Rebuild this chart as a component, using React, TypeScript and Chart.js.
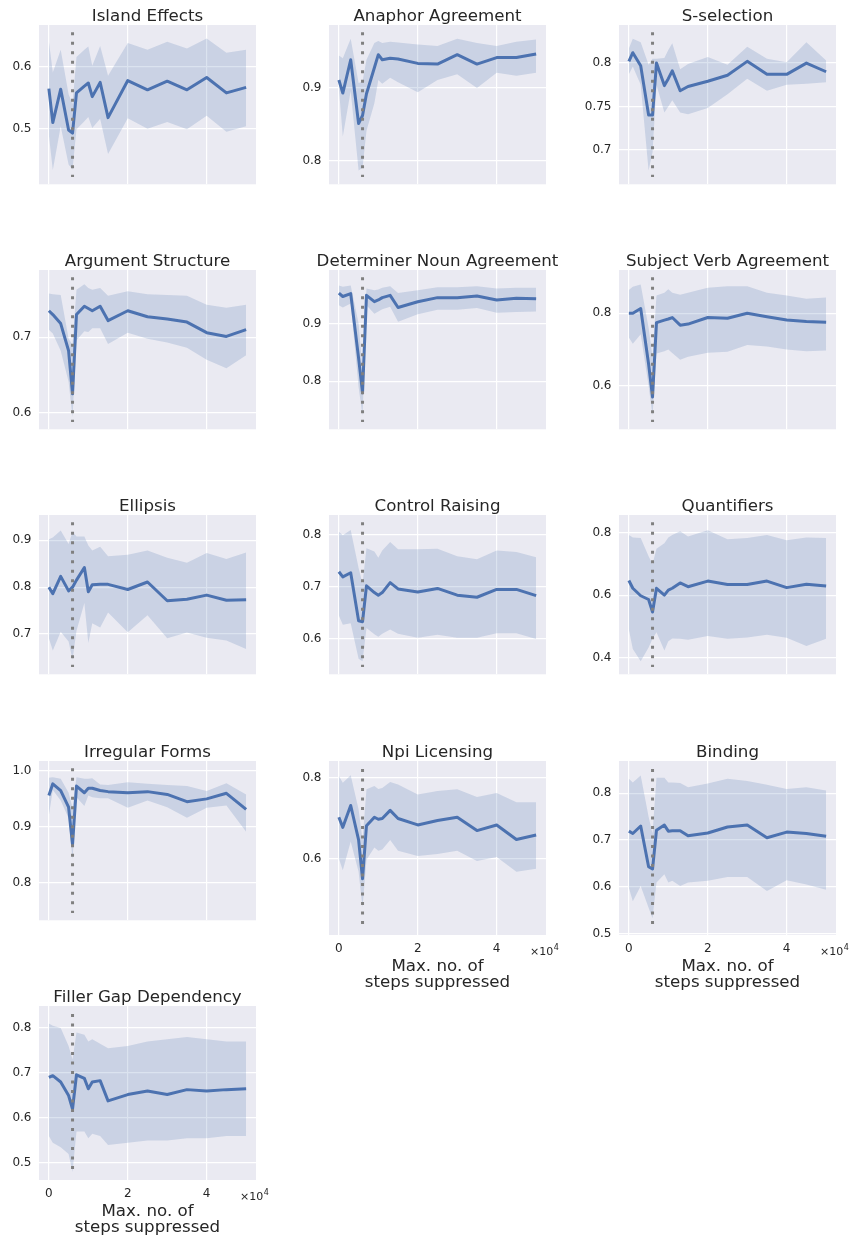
import React, { useEffect, useRef } from "react";
import { Chart, registerables } from "chart.js";

Chart.register(...registerables);

// ---------------- data ----------------
const STEPS = [0, 1000, 3000, 5000, 6000, 7000, 9000, 10000, 11000, 13000, 15000, 20000, 25000, 30000, 35000, 40000, 45000, 50000];
const SUPPRESS_AT = 6000;
const X_TICKS = [0, 20000, 40000];
const X_TICK_LABELS = ["0", "2", "4"];
const X_OFFSET_TEXT = "×10";
const X_OFFSET_EXP = "4";
const X_LABEL = ["Max. no. of", "steps suppressed"];
const X_MIN = -2500;
const X_MAX = 52500;

const TITLES = [
  "Island Effects", "Anaphor Agreement", "S-selection",
  "Argument Structure", "Determiner Noun Agreement", "Subject Verb Agreement",
  "Ellipsis", "Control Raising", "Quantifiers",
  "Irregular Forms", "Npi Licensing", "Binding",
  "Filler Gap Dependency",
];

const islandMean = [0.565, 0.510, 0.564, 0.498, 0.493, 0.558, 0.569, 0.574, 0.552, 0.575, 0.518, 0.578, 0.563, 0.577, 0.563, 0.583, 0.558, 0.567];
const islandHi = [0.642, 0.591, 0.628, 0.556, 0.540, 0.616, 0.628, 0.633, 0.602, 0.634, 0.586, 0.639, 0.628, 0.641, 0.630, 0.646, 0.623, 0.628];
const islandLo = [0.490, 0.433, 0.504, 0.442, 0.434, 0.499, 0.512, 0.519, 0.501, 0.516, 0.459, 0.517, 0.500, 0.511, 0.499, 0.521, 0.495, 0.504];

const anaphorMean = [0.911, 0.893, 0.939, 0.851, 0.862, 0.892, 0.928, 0.946, 0.939, 0.941, 0.940, 0.934, 0.933, 0.946, 0.933, 0.942, 0.942, 0.947];
const anaphorHi = [0.945, 0.941, 0.968, 0.907, 0.909, 0.939, 0.962, 0.965, 0.962, 0.964, 0.963, 0.960, 0.958, 0.968, 0.962, 0.958, 0.964, 0.967];
const anaphorLo = [0.900, 0.833, 0.896, 0.786, 0.790, 0.841, 0.879, 0.911, 0.906, 0.914, 0.908, 0.894, 0.911, 0.919, 0.900, 0.921, 0.917, 0.921];

const sselMean = [0.802, 0.812, 0.797, 0.740, 0.740, 0.800, 0.774, 0.782, 0.791, 0.768, 0.773, 0.779, 0.786, 0.802, 0.787, 0.787, 0.800, 0.790];
const sselHi = [0.817, 0.828, 0.824, 0.798, 0.805, 0.805, 0.806, 0.815, 0.823, 0.793, 0.799, 0.807, 0.798, 0.819, 0.805, 0.801, 0.824, 0.803];
const sselLo = [0.787, 0.796, 0.775, 0.676, 0.697, 0.775, 0.743, 0.750, 0.757, 0.743, 0.741, 0.748, 0.764, 0.782, 0.768, 0.775, 0.776, 0.778];

const argMean = [0.735, 0.730, 0.718, 0.682, 0.625, 0.730, 0.741, 0.738, 0.735, 0.741, 0.722, 0.735, 0.727, 0.724, 0.720, 0.706, 0.701, 0.710];
const argHi = [0.758, 0.757, 0.756, 0.698, 0.690, 0.763, 0.770, 0.765, 0.763, 0.765, 0.755, 0.761, 0.757, 0.756, 0.755, 0.743, 0.739, 0.743];
const argLo = [0.710, 0.705, 0.682, 0.641, 0.594, 0.696, 0.708, 0.707, 0.712, 0.712, 0.691, 0.706, 0.698, 0.693, 0.686, 0.670, 0.659, 0.676];

const detMean = [0.953, 0.947, 0.952, 0.840, 0.780, 0.949, 0.938, 0.941, 0.945, 0.949, 0.928, 0.938, 0.945, 0.945, 0.948, 0.941, 0.944, 0.943];
const detHi = [0.966, 0.964, 0.966, 0.900, 0.820, 0.961, 0.958, 0.959, 0.962, 0.965, 0.953, 0.958, 0.963, 0.963, 0.965, 0.961, 0.962, 0.962];
const detLo = [0.932, 0.928, 0.935, 0.790, 0.740, 0.932, 0.917, 0.921, 0.925, 0.929, 0.903, 0.916, 0.924, 0.924, 0.927, 0.919, 0.920, 0.921];

const svaMean = [0.800, 0.800, 0.813, 0.660, 0.569, 0.774, 0.781, 0.784, 0.788, 0.767, 0.770, 0.788, 0.786, 0.800, 0.790, 0.781, 0.777, 0.775];
const svaHi = [0.864, 0.873, 0.879, 0.760, 0.680, 0.849, 0.856, 0.866, 0.856, 0.851, 0.856, 0.870, 0.874, 0.874, 0.856, 0.849, 0.840, 0.843];
const svaLo = [0.733, 0.716, 0.742, 0.600, 0.518, 0.689, 0.695, 0.700, 0.690, 0.672, 0.680, 0.691, 0.694, 0.712, 0.708, 0.700, 0.695, 0.697];

const ellMean = [0.800, 0.786, 0.823, 0.792, 0.800, 0.815, 0.842, 0.790, 0.805, 0.806, 0.806, 0.795, 0.811, 0.771, 0.774, 0.783, 0.772, 0.773];
const ellHi = [0.902, 0.906, 0.921, 0.892, 0.918, 0.908, 0.908, 0.889, 0.878, 0.886, 0.866, 0.869, 0.878, 0.863, 0.852, 0.873, 0.860, 0.874];
const ellLo = [0.691, 0.665, 0.705, 0.684, 0.645, 0.707, 0.766, 0.681, 0.723, 0.714, 0.746, 0.704, 0.740, 0.691, 0.703, 0.692, 0.686, 0.668];

const ctrlMean = [0.729, 0.719, 0.727, 0.635, 0.633, 0.702, 0.689, 0.684, 0.689, 0.708, 0.696, 0.690, 0.697, 0.684, 0.680, 0.695, 0.695, 0.683];
const ctrlHi = [0.806, 0.799, 0.809, 0.736, 0.706, 0.774, 0.768, 0.756, 0.770, 0.786, 0.772, 0.772, 0.773, 0.759, 0.753, 0.770, 0.767, 0.757];
const ctrlLo = [0.645, 0.627, 0.630, 0.562, 0.557, 0.621, 0.609, 0.604, 0.610, 0.618, 0.610, 0.602, 0.608, 0.602, 0.602, 0.611, 0.611, 0.600];

const quantMean = [0.647, 0.622, 0.598, 0.586, 0.546, 0.622, 0.600, 0.616, 0.622, 0.639, 0.627, 0.645, 0.634, 0.634, 0.645, 0.624, 0.635, 0.629];
const quantHi = [0.793, 0.785, 0.783, 0.725, 0.700, 0.749, 0.766, 0.785, 0.793, 0.805, 0.788, 0.808, 0.779, 0.783, 0.793, 0.776, 0.785, 0.783];
const quantLo = [0.490, 0.427, 0.388, 0.432, 0.460, 0.481, 0.422, 0.452, 0.461, 0.460, 0.457, 0.469, 0.460, 0.464, 0.473, 0.463, 0.437, 0.460];

const irrMean = [0.956, 0.977, 0.965, 0.935, 0.868, 0.973, 0.961, 0.969, 0.969, 0.965, 0.963, 0.961, 0.963, 0.958, 0.945, 0.950, 0.960, 0.931];
const irrHi = [0.988, 0.989, 0.986, 0.961, 0.934, 0.989, 0.986, 0.986, 0.987, 0.976, 0.975, 0.980, 0.977, 0.975, 0.973, 0.964, 0.978, 0.958];
const irrLo = [0.920, 0.966, 0.947, 0.915, 0.841, 0.953, 0.937, 0.956, 0.953, 0.951, 0.951, 0.934, 0.947, 0.935, 0.916, 0.934, 0.938, 0.891];

const npiMean = [0.703, 0.678, 0.732, 0.647, 0.551, 0.682, 0.703, 0.698, 0.700, 0.720, 0.700, 0.684, 0.695, 0.703, 0.670, 0.684, 0.648, 0.659];
const npiHi = [0.805, 0.788, 0.807, 0.722, 0.647, 0.772, 0.780, 0.773, 0.775, 0.790, 0.784, 0.759, 0.768, 0.772, 0.753, 0.763, 0.740, 0.740];
const npiLo = [0.601, 0.572, 0.643, 0.568, 0.480, 0.598, 0.628, 0.620, 0.623, 0.647, 0.620, 0.607, 0.612, 0.620, 0.595, 0.605, 0.568, 0.576];

const bindMean = [0.719, 0.714, 0.730, 0.643, 0.638, 0.721, 0.732, 0.719, 0.720, 0.720, 0.709, 0.715, 0.728, 0.732, 0.705, 0.717, 0.714, 0.708];
const bindHi = [0.831, 0.823, 0.838, 0.750, 0.714, 0.833, 0.833, 0.823, 0.823, 0.822, 0.813, 0.821, 0.831, 0.826, 0.818, 0.809, 0.813, 0.806];
const bindLo = [0.598, 0.569, 0.602, 0.555, 0.533, 0.609, 0.627, 0.609, 0.613, 0.602, 0.609, 0.613, 0.621, 0.621, 0.591, 0.614, 0.605, 0.594];

const fillerMean = [0.690, 0.694, 0.680, 0.650, 0.620, 0.696, 0.688, 0.665, 0.680, 0.683, 0.638, 0.652, 0.660, 0.652, 0.663, 0.660, 0.663, 0.665];
const fillerHi = [0.810, 0.805, 0.800, 0.760, 0.730, 0.790, 0.785, 0.770, 0.775, 0.765, 0.755, 0.760, 0.770, 0.775, 0.780, 0.775, 0.770, 0.770];
const fillerLo = [0.560, 0.545, 0.535, 0.520, 0.480, 0.570, 0.570, 0.555, 0.565, 0.560, 0.540, 0.545, 0.550, 0.550, 0.555, 0.555, 0.560, 0.560];

const MEANS = [islandMean, anaphorMean, sselMean, argMean, detMean, svaMean, ellMean, ctrlMean, quantMean, irrMean, npiMean, bindMean, fillerMean];
const HIS = [islandHi, anaphorHi, sselHi, argHi, detHi, svaHi, ellHi, ctrlHi, quantHi, irrHi, npiHi, bindHi, fillerHi];
const LOS = [islandLo, anaphorLo, sselLo, argLo, detLo, svaLo, ellLo, ctrlLo, quantLo, irrLo, npiLo, bindLo, fillerLo];

const Y_MIN = [0.41, 0.767, 0.66, 0.578, 0.7165, 0.48, 0.614, 0.532, 0.346, 0.732, 0.412, 0.497, 0.462];
const Y_MAX = [0.668, 0.987, 0.844, 0.789, 0.993, 0.919, 0.954, 0.838, 0.857, 1.018, 0.842, 0.869, 0.849];
const Y_TICKS = [
  [0.5, 0.6], [0.8, 0.9], [0.7, 0.75, 0.8],
  [0.6, 0.7], [0.8, 0.9], [0.6, 0.8],
  [0.7, 0.8, 0.9], [0.6, 0.7, 0.8], [0.4, 0.6, 0.8],
  [0.8, 0.9, 1.0], [0.6, 0.8], [0.5, 0.6, 0.7, 0.8],
  [0.5, 0.6, 0.7, 0.8],
];
const Y_TICK_LABELS = [
  ["0.5", "0.6"], ["0.8", "0.9"], ["0.7", "0.75", "0.8"],
  ["0.6", "0.7"], ["0.8", "0.9"], ["0.6", "0.8"],
  ["0.7", "0.8", "0.9"], ["0.6", "0.7", "0.8"], ["0.4", "0.6", "0.8"],
  ["0.8", "0.9", "1.0"], ["0.6", "0.8"], ["0.5", "0.6", "0.7", "0.8"],
  ["0.5", "0.6", "0.7", "0.8"],
];
const X_LABELLED_PANELS = [10, 11, 12];

// ---------------- layout / style ----------------
const COL_LEFT = [39, 329, 619];
const ROW_TOP = [25, 270, 515, 761, 1006];
const PLOT_W = 217;
const PLOT_H = 174;
const PAD_L = 45;
const PAD_T = 30;
const PAD_R = 25;
const PAD_B = 62;
const VLINE_INSET = 1 / 22; // suppression marker spans the axis range minus the default 5% margins

const FONT = "DejaVu Sans";
const TEXT = "#262626";
const BG = "#EAEAF2";
const LINE = "#4C72B0";
const BAND = "rgba(76,114,176,0.2)";
const VLINE = "#808080";

const decoPlugin = {
  id: "deco",
  beforeDraw(chart: any) {
    const { ctx, chartArea: a } = chart;
    ctx.save();
    ctx.fillStyle = BG;
    ctx.fillRect(a.left, a.top, a.right - a.left, a.bottom - a.top);
    ctx.restore();
  },
  afterDraw(chart: any, _args: any, opts: any) {
    const { ctx, chartArea: a } = chart;
    const cx = (a.left + a.right) / 2;
    ctx.save();
    ctx.fillStyle = TEXT;
    ctx.textBaseline = "alphabetic";
    ctx.textAlign = "center";
    ctx.font = `16.67px "${FONT}"`;
    ctx.fillText(opts.title, cx, a.top - 4);
    if (opts.showX) {
      const xs = chart.scales.x;
      ctx.font = `12px "${FONT}"`;
      X_TICKS.forEach((v, i) => ctx.fillText(X_TICK_LABELS[i], xs.getPixelForValue(v), a.bottom + 17));
      ctx.font = `16.67px "${FONT}"`;
      ctx.fillText(X_LABEL[0], cx, a.bottom + 35.5);
      ctx.fillText(X_LABEL[1], cx, a.bottom + 52);
      ctx.textAlign = "left";
      ctx.font = `11px "${FONT}"`;
      const x0 = a.right - 16;
      ctx.fillText(X_OFFSET_TEXT, x0, a.bottom + 20);
      const w = ctx.measureText(X_OFFSET_TEXT).width;
      ctx.font = `8px "${FONT}"`;
      ctx.fillText(X_OFFSET_EXP, x0 + w + 0.5, a.bottom + 15);
    }
    ctx.restore();
  },
};

function Panel({ idx }: { idx: number }) {
  const ref = useRef<HTMLCanvasElement>(null);
  const col = idx % 3;
  const row = Math.floor(idx / 3);
  const showX = X_LABELLED_PANELS.includes(idx);
  const W = PAD_L + PLOT_W + PAD_R;
  const H = PAD_T + PLOT_H + (showX ? PAD_B : 0);

  useEffect(() => {
    if (!ref.current) return;
    const mean = MEANS[idx];
    const hi = HIS[idx];
    const lo = LOS[idx];
    const ticks = Y_TICKS[idx];
    const labels = Y_TICK_LABELS[idx];
    const span = Y_MAX[idx] - Y_MIN[idx];
    const vTop = Y_MAX[idx] - span * VLINE_INSET;
    const vBottom = Y_MIN[idx] + span * VLINE_INSET;
    const pts = (arr: number[]) => arr.map((v, i) => ({ x: STEPS[i], y: v }));

    const chart = new Chart(ref.current, {
      type: "line",
      data: {
        datasets: [
          { data: pts(lo), borderColor: "transparent", borderWidth: 0, pointRadius: 0, fill: false, order: 4 } as any,
          { data: pts(hi), borderColor: "transparent", borderWidth: 0, pointRadius: 0, backgroundColor: BAND, fill: "-1", order: 3 } as any,
          { data: pts(mean), borderColor: LINE, borderWidth: 3, pointRadius: 0, fill: false, tension: 0, borderJoinStyle: "round", order: 2 } as any,
          {
            data: [{ x: SUPPRESS_AT, y: vTop }, { x: SUPPRESS_AT, y: vBottom }],
            borderColor: VLINE, borderWidth: 3, borderDash: [3, 6.5], pointRadius: 0, fill: false, order: 1,
          } as any,
        ],
      },
      options: {
        responsive: false,
        animation: false,
        events: [],
        layout: { padding: { left: 0, top: PAD_T, right: PAD_R, bottom: showX ? PAD_B : 0 } },
        plugins: {
          legend: { display: false },
          tooltip: { enabled: false },
          title: { display: false },
          deco: { title: TITLES[idx], showX },
        } as any,
        scales: {
          x: {
            type: "linear",
            min: X_MIN,
            max: X_MAX,
            afterBuildTicks: (s: any) => { s.ticks = X_TICKS.map((v) => ({ value: v })); },
            afterFit: (s: any) => { s.height = 0; },
            grid: { color: "#FFFFFF", lineWidth: 1.2, drawTicks: false },
            border: { display: false },
            ticks: { display: false },
          },
          y: {
            type: "linear",
            min: Y_MIN[idx],
            max: Y_MAX[idx],
            afterBuildTicks: (s: any) => { s.ticks = ticks.map((v) => ({ value: v })); },
            afterFit: (s: any) => { s.width = PAD_L; },
            grid: { color: "#FFFFFF", lineWidth: 1.2, drawTicks: false },
            border: { display: false },
            ticks: {
              padding: 7.5,
              color: TEXT,
              autoSkip: false,
              font: { family: FONT, size: 12 },
              callback: (v: any) => {
                const k = ticks.findIndex((t) => Math.abs(t - Number(v)) < 1e-9);
                return k >= 0 ? labels[k] : "";
              },
            },
          },
        } as any,
      },
      plugins: [decoPlugin as any],
    });
    return () => chart.destroy();
  }, [idx]);

  return (
    <canvas
      ref={ref}
      width={W}
      height={H}
      style={{ position: "absolute", left: COL_LEFT[col] - PAD_L, top: ROW_TOP[row] - PAD_T, width: W, height: H }}
    />
  );
}

export default function App() {
  return (
    <div style={{ position: "absolute", left: 0, top: 0, width: 850, height: 1243, background: "#FFFFFF", overflow: "hidden" }}>
      {TITLES.map((_, i) => (
        <Panel key={i} idx={i} />
      ))}
    </div>
  );
}
